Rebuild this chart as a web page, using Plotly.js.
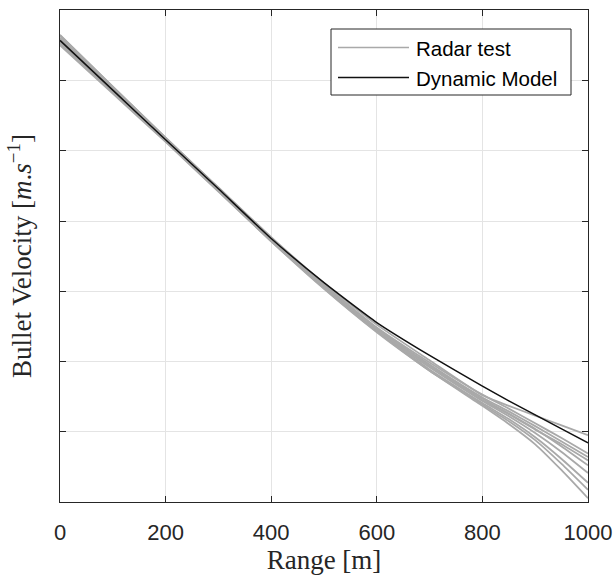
<!DOCTYPE html>
<html>
<head>
<meta charset="utf-8">
<script src="https://cdn.plot.ly/plotly-3.0.1.min.js"></script>
<style>html,body{margin:0;padding:0;background:#fff;}</style>
</head>
<body>
<div id="chart" style="width:615px;height:575px;"></div>
<script>
// Range in metres
const rangeM = [0, 100, 200, 300, 400, 500, 600, 700, 800, 850, 900, 950, 1000];

// Dynamic model (m/s)
const dynamicModel = [858, 787, 716, 646, 575, 512, 455, 408, 364, 343, 323, 303, 283];

// Radar test shots (m/s)
const radar1 = [865, 792, 719, 648, 577, 511, 452, 401, 351, 336, 322, 308, 294];
const radar2 = [862, 790, 718, 647, 576, 509, 448, 398, 352, 332, 311, 290, 268];
const radar3 = [860, 789, 717, 646, 575, 508, 446, 395, 348, 328, 307, 285, 263];
const radar4 = [857, 787, 716, 645, 574, 507, 445, 394, 346, 325, 303, 278, 251];
const radar5 = [855, 785, 715, 644, 573, 506, 444, 391, 343, 321, 297, 270, 240];
const radar6 = [853, 784, 714, 643, 572, 505, 443, 388, 340, 317, 291, 260, 226];
const radar7 = [851, 782, 713, 642, 571, 504, 442, 386, 338, 314, 287, 253, 216];
const radar8 = [856, 785, 714, 643, 571, 503, 441, 386, 336, 310, 281, 244, 204];
const radar9 = [866, 792, 719, 647, 575, 507, 445, 393, 344, 324, 302, 281, 258];
const radarTests = [radar1, radar2, radar3, radar4, radar5, radar6, radar7, radar8, radar9];

// Axis ticks
const xTickVals = [0, 200, 400, 600, 800, 1000];
const xTickText = ['0', '200', '400', '600', '800', '1000'];
const yTickVals = [300, 400, 500, 600, 700, 800];

// Legend entries
const legendNames = ['Radar test', 'Dynamic Model'];

const GRAY = '#a9a9a9';
const DARK = '#111111';
const AXC = '#262626';

const traces = [];
radarTests.forEach((v, i) => {
  traces.push({
    x: rangeM, y: v, type: 'scatter', mode: 'lines',
    name: legendNames[0], showlegend: false,
    line: {color: GRAY, width: 1.8, shape: 'spline', smoothing: 0.5},
    hoverinfo: 'skip'
  });
});
traces.push({
  x: rangeM, y: dynamicModel, type: 'scatter', mode: 'lines',
  name: legendNames[1], showlegend: false,
  line: {color: DARK, width: 1.5, shape: 'spline', smoothing: 0.5},
  hoverinfo: 'skip'
});

// plot area in px: left 60, right 588, top 10, bottom 502
const L = 60, R = 588, T = 10, B = 502;
const px2x = p => (p - L) / (R - L);
const py2y = p => (B - p) / (B - T);

const shapes = [
  {type: 'rect', xref: 'paper', yref: 'paper',
   x0: px2x(331), x1: px2x(571), y0: py2y(95), y1: py2y(29),
   fillcolor: '#ffffff', line: {color: AXC, width: 1}},
  {type: 'line', xref: 'paper', yref: 'paper',
   x0: px2x(338), x1: px2x(409), y0: py2y(47.5), y1: py2y(47.5),
   line: {color: GRAY, width: 1.3}},
  {type: 'line', xref: 'paper', yref: 'paper',
   x0: px2x(338), x1: px2x(409), y0: py2y(77.5), y1: py2y(77.5),
   line: {color: DARK, width: 1.3}}
];

const annotations = [
  {xref: 'paper', yref: 'paper', x: px2x(414), y: py2y(48.5), xanchor: 'left', yanchor: 'middle',
   text: legendNames[0], showarrow: false,
   font: {family: 'Liberation Sans, Arial, sans-serif', size: 20.5, color: '#000'}},
  {xref: 'paper', yref: 'paper', x: px2x(414), y: py2y(78.5), xanchor: 'left', yanchor: 'middle',
   text: legendNames[1], showarrow: false,
   font: {family: 'Liberation Sans, Arial, sans-serif', size: 20.5, color: '#000'}}
];

const serif = 'Liberation Serif, Times New Roman, serif';

const layout = {
  width: 615, height: 575,
  margin: {l: L, r: 615 - R, t: T, b: 575 - B, pad: 0},
  paper_bgcolor: '#ffffff', plot_bgcolor: '#ffffff',
  showlegend: false,
  xaxis: {
    range: [0, 1000], tickmode: 'array', tickvals: xTickVals, ticktext: xTickText,
    showticklabels: false,
    ticks: 'inside', ticklen: 6, tickwidth: 1, tickcolor: AXC,
    showline: true, linecolor: AXC, linewidth: 1, mirror: 'ticks',
    showgrid: true, gridcolor: '#e4e4e4', gridwidth: 1, zeroline: false,
    automargin: false
  },
  xaxis2: {
    overlaying: 'x', side: 'bottom', anchor: 'y',
    range: [0, 1000], tickmode: 'array', tickvals: xTickVals, ticktext: xTickText,
    ticks: 'outside', ticklen: 11, tickcolor: 'rgba(0,0,0,0)',
    showline: false, showgrid: false, zeroline: false,
    tickfont: {family: 'Liberation Sans, Arial, sans-serif', size: 22, color: AXC},
    title: {text: 'Range [m]', standoff: 0,
            font: {family: serif, size: 27, color: AXC}},
    automargin: false
  },
  yaxis: {
    range: [198.6, 901.4], tickmode: 'array', tickvals: yTickVals,
    showticklabels: false,
    ticks: 'inside', ticklen: 6, tickwidth: 1, tickcolor: AXC,
    showline: true, linecolor: AXC, linewidth: 1, mirror: 'ticks',
    showgrid: true, gridcolor: '#e4e4e4', gridwidth: 1, zeroline: false,
    title: {text: 'Bullet Velocity [<i>m</i>.<i>s</i><sup>−1</sup>]', standoff: 19,
            font: {family: serif, size: 27, color: AXC}},
    automargin: false
  },
  shapes: shapes,
  annotations: annotations
};

// invisible trace bound to xaxis2 so the label axis is drawn
traces.push({x: [xTickVals[0]], y: [yTickVals[0]], xaxis: 'x2', type: 'scatter', mode: 'markers',
  marker: {opacity: 0}, showlegend: false, hoverinfo: 'skip'});

Plotly.newPlot('chart', traces, layout, {staticPlot: true, displayModeBar: false});
</script>
</body>
</html>
